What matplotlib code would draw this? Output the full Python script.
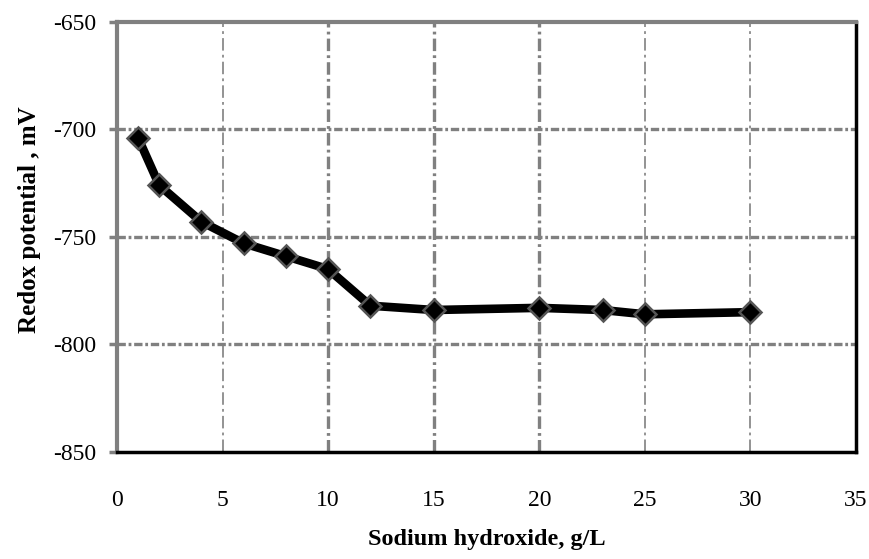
import matplotlib
matplotlib.use("Agg")
import matplotlib.pyplot as plt

x_naoh = [1, 2, 4, 6, 8, 10, 12, 15, 20, 23, 25, 30]
redox = [-704, -726, -743, -753, -759, -765, -782, -784, -783, -784, -786, -785]
x_ticks = [0, 5, 10, 15, 20, 25, 30, 35]
y_ticks = [-850, -800, -750, -700, -650]

plt.rcParams['font.family'] = ['Liberation Serif', 'DejaVu Serif']
plt.rcParams['lines.scale_dashes'] = False
plt.rcParams['axes.unicode_minus'] = False

fig = plt.figure(figsize=(8.69, 5.59), dpi=100)
ax = fig.add_axes([117/869, 1-452/559, (856-117)/869, (452-21.7)/559])

ax.set_xlim(0, 35)
ax.set_ylim(-850, -650)
ax.set_xticks(x_ticks)
ax.set_yticks(y_ticks)

grey = '#808080'
# vertical grid lines
vwidths = {5: 1.2, 10: 2.4, 15: 2.4, 20: 2.4, 25: 1.2, 30: 1.2}
for xv in x_ticks[1:-1]:
    ax.axvline(xv, color=grey, lw=vwidths[xv], ls=(0, (9, 3, 2, 3)), zorder=1)
for yv in y_ticks[1:-1]:
    ax.axhline(yv, color=grey, lw=2.4, ls=(0, (6, 2, 2, 2)), zorder=1)

ax.plot(x_naoh, redox, color='black', lw=6.2, marker='D', markersize=11,
        markerfacecolor='black', markeredgecolor='#555555', markeredgewidth=1.8,
        zorder=3, clip_on=False)

for s in ['left', 'top']:
    ax.spines[s].set_color(grey)
    ax.spines[s].set_linewidth(3)
for s in ['bottom', 'right']:
    ax.spines[s].set_color('black')
    ax.spines[s].set_linewidth(2.5)

ax.tick_params(axis='y', direction='out', length=6, width=2.5, color=grey,
               labelsize=17, pad=9)
ax.tick_params(axis='x', length=0, labelsize=17, pad=27)

fig.text(487/869, 1-540/559, 'Sodium hydroxide, g/L', ha='center', va='center',
         fontsize=17.5, fontweight='bold')
fig.text(30/869, 1-220/559, 'Redox potential , mV', ha='center', va='center',
         rotation=90, fontsize=18, fontweight='bold')

fig.savefig('out.png', dpi=100)
